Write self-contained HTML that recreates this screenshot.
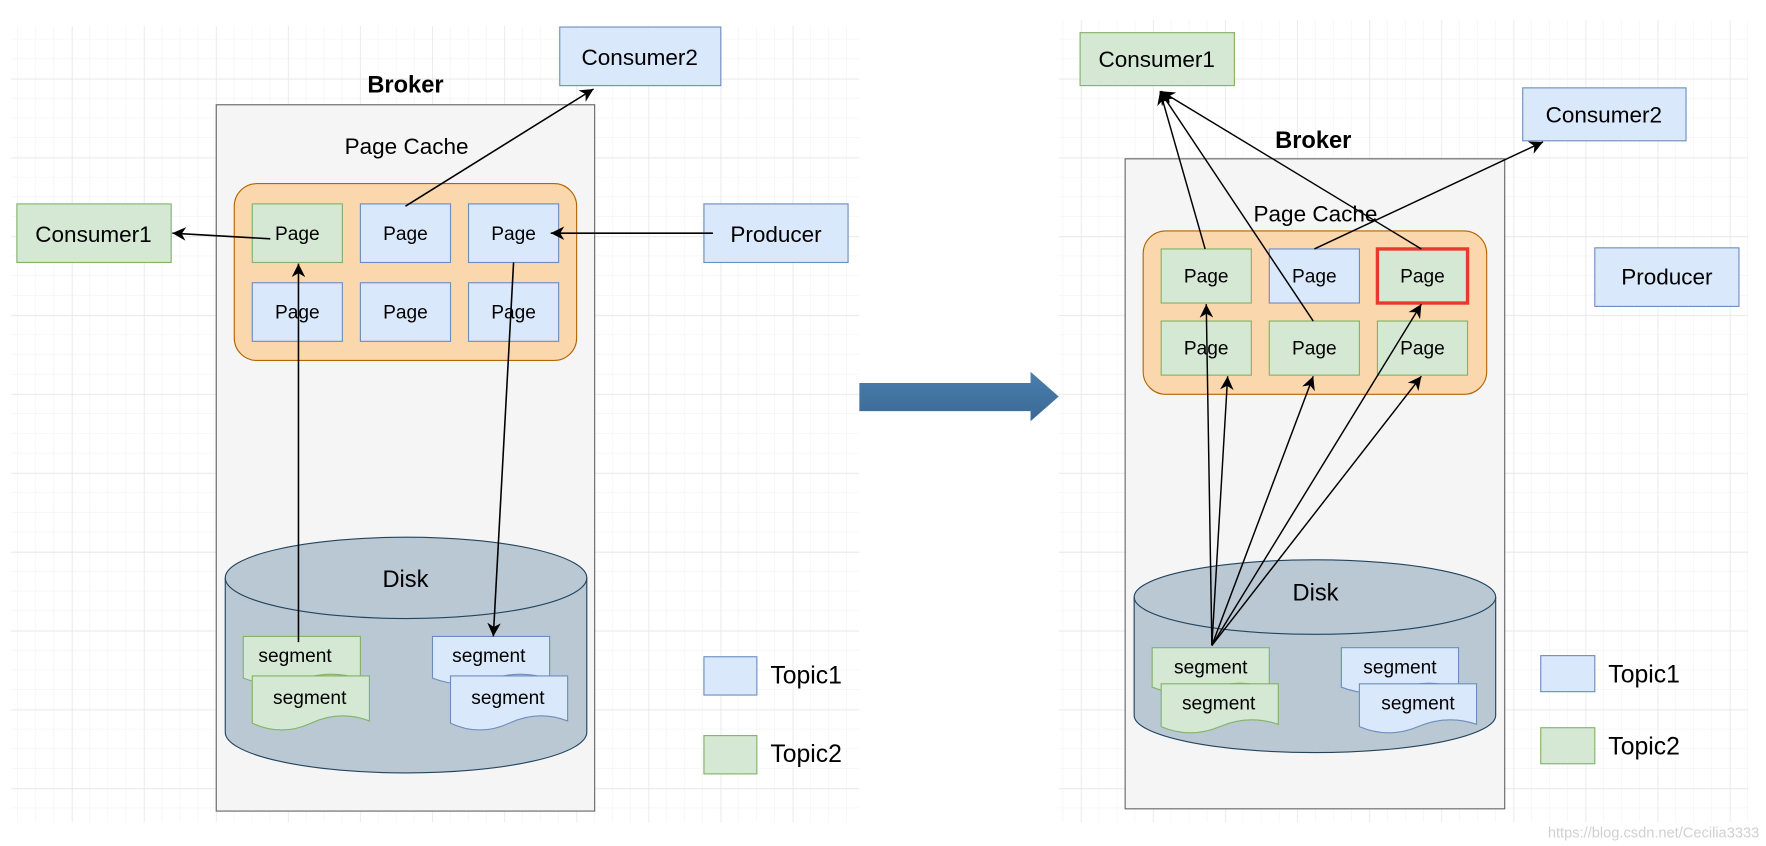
<!DOCTYPE html>
<html><head><meta charset="utf-8"><style>html,body{margin:0;padding:0;background:#fff}svg{display:block}</style></head>
<body>
<svg width="1766" height="846" viewBox="0 0 1568 751" preserveAspectRatio="none" xmlns="http://www.w3.org/2000/svg" font-family="Liberation Sans, sans-serif">
<defs>
<pattern id="g" width="16" height="17.5" patternUnits="userSpaceOnUse"><path d="M16 0V17.5M0 17.5H16" stroke="#f2f2f2" stroke-width="1" fill="none"/></pattern>
<pattern id="G" width="64" height="70" patternUnits="userSpaceOnUse"><path d="M0 0V70M0 0H64" stroke="#e4e4e4" stroke-width="1" fill="none"/></pattern>
<marker id="a" markerWidth="12" markerHeight="12" refX="10" refY="5" orient="auto" markerUnits="userSpaceOnUse" viewBox="0 0 10 10"><path d="M0,0 L10,5 L0,10 L3,5 z" fill="#000"/></marker>
<linearGradient id="bl" x1="0" y1="0" x2="0" y2="1"><stop offset="0" stop-color="#4a7fae"/><stop offset="1" stop-color="#3a6894"/></linearGradient>
</defs>
<rect x="10" y="23" width="753" height="707" fill="url(#g)"/>
<rect x="10" y="23" width="753" height="707" fill="url(#G)"/>
<rect x="940" y="18" width="612" height="712" fill="url(#g)"/>
<rect x="940" y="18" width="612" height="712" fill="url(#G)"/>

<g font-size="18" text-anchor="middle" dominant-baseline="central">
<!-- LEFT -->
<text x="360" y="76" font-size="21" font-weight="bold">Broker</text>
<rect x="192" y="93" width="336" height="627" fill="#f5f5f5" stroke="#666"/>
<text x="361" y="130" font-size="20">Page Cache</text>
<rect x="208" y="163" width="304" height="157" rx="20" fill="#fad7ac" stroke="#b46504"/>
<rect x="224" y="181" width="80" height="52" fill="#d5e8d4" stroke="#82b366"/><text x="264" y="208" font-size="17">Page</text>
<rect x="320" y="181" width="80" height="52" fill="#dae8fc" stroke="#6c8ebf"/><text x="360" y="208" font-size="17">Page</text>
<rect x="416" y="181" width="80" height="52" fill="#dae8fc" stroke="#6c8ebf"/><text x="456" y="208" font-size="17">Page</text>
<rect x="224" y="251" width="80" height="52" fill="#dae8fc" stroke="#6c8ebf"/><text x="264" y="278" font-size="17">Page</text>
<rect x="320" y="251" width="80" height="52" fill="#dae8fc" stroke="#6c8ebf"/><text x="360" y="278" font-size="17">Page</text>
<rect x="416" y="251" width="80" height="52" fill="#dae8fc" stroke="#6c8ebf"/><text x="456" y="278" font-size="17">Page</text>
<rect x="15" y="181" width="137" height="52" fill="#d5e8d4" stroke="#82b366"/><text x="83" y="208" font-size="20">Consumer1</text>
<rect x="497" y="24" width="143" height="52" fill="#dae8fc" stroke="#6c8ebf"/><text x="568" y="51" font-size="20">Consumer2</text>
<rect x="625" y="181" width="128" height="52" fill="#dae8fc" stroke="#6c8ebf"/><text x="689" y="208" font-size="20">Producer</text>
<path d="M200 513 V650 A160 36 0 0 0 521 650 V513 A160 36 0 0 0 200 513 Z" fill="#bac8d3" stroke="#23445d"/>
<path d="M200 513 A160 36 0 0 0 521 513" fill="none" stroke="#23445d"/>
<text x="360" y="515" font-size="21">Disk</text>
<path d="M216 565 H320 V603 Q294 594 268 603 Q242 612 216 602 Z" fill="#d5e8d4" stroke="#82b366"/><text x="262" y="583" font-size="17">segment</text>
<path d="M224 600 H328 V640 Q302 630 276 642 Q250 654 224 642 Z" fill="#d5e8d4" stroke="#82b366"/><text x="275" y="620" font-size="17">segment</text>
<path d="M384 565 H488 V603 Q462 594 436 603 Q410 612 384 602 Z" fill="#dae8fc" stroke="#6c8ebf"/><text x="434" y="583" font-size="17">segment</text>
<path d="M400 600 H504 V640 Q478 630 452 642 Q426 654 400 642 Z" fill="#dae8fc" stroke="#6c8ebf"/><text x="451" y="620" font-size="17">segment</text>
<rect x="625" y="583" width="47" height="34" fill="#dae8fc" stroke="#6c8ebf"/><text x="684" y="600" font-size="22" text-anchor="start">Topic1</text>
<rect x="625" y="653" width="47" height="34" fill="#d5e8d4" stroke="#82b366"/><text x="684" y="670" font-size="22" text-anchor="start">Topic2</text>
<g stroke="#000" stroke-width="1.4" fill="none">
<line x1="240" y1="212" x2="153" y2="207" marker-end="url(#a)"/>
<line x1="360" y1="183" x2="527" y2="79" marker-end="url(#a)"/>
<line x1="633" y1="207" x2="489" y2="207" marker-end="url(#a)"/>
<line x1="265" y1="570" x2="265" y2="234" marker-end="url(#a)"/>
<line x1="456" y1="233" x2="438" y2="565" marker-end="url(#a)"/>
</g>

<!-- big arrow -->
<path d="M763 340 H915 V330 L940 352 L915 374 V365 H763 Z" fill="url(#bl)"/>

<!-- RIGHT -->
<text x="1166" y="125" font-size="21" font-weight="bold">Broker</text>
<rect x="999" y="141" width="337" height="577" fill="#f5f5f5" stroke="#666"/>
<text x="1168" y="190" font-size="20">Page Cache</text>
<rect x="1015" y="205" width="305" height="145" rx="20" fill="#fad7ac" stroke="#b46504"/>
<rect x="1031" y="221" width="80" height="48" fill="#d5e8d4" stroke="#82b366"/><text x="1071" y="246" font-size="17">Page</text>
<rect x="1127" y="221" width="80" height="48" fill="#dae8fc" stroke="#6c8ebf"/><text x="1167" y="246" font-size="17">Page</text>
<rect x="1223" y="221" width="80" height="48" fill="#d5e8d4" stroke="#e83a2c" stroke-width="3"/><text x="1263" y="246" font-size="17">Page</text>
<rect x="1031" y="285" width="80" height="48" fill="#d5e8d4" stroke="#82b366"/><text x="1071" y="310" font-size="17">Page</text>
<rect x="1127" y="285" width="80" height="48" fill="#d5e8d4" stroke="#82b366"/><text x="1167" y="310" font-size="17">Page</text>
<rect x="1223" y="285" width="80" height="48" fill="#d5e8d4" stroke="#82b366"/><text x="1263" y="310" font-size="17">Page</text>
<rect x="959" y="29" width="137" height="47" fill="#d5e8d4" stroke="#82b366"/><text x="1027" y="53" font-size="20">Consumer1</text>
<rect x="1352" y="78" width="145" height="47" fill="#dae8fc" stroke="#6c8ebf"/><text x="1424" y="102" font-size="20">Consumer2</text>
<rect x="1416" y="220" width="128" height="52" fill="#dae8fc" stroke="#6c8ebf"/><text x="1480" y="246" font-size="20">Producer</text>
<path d="M1007 530 V635 A160 33 0 0 0 1328 635 V530 A160 33 0 0 0 1007 530 Z" fill="#bac8d3" stroke="#23445d"/>
<path d="M1007 530 A160 33 0 0 0 1328 530" fill="none" stroke="#23445d"/>
<text x="1168" y="527" font-size="21">Disk</text>
<path d="M1023 575 H1127 V611 Q1101 602 1075 611 Q1049 620 1023 610 Z" fill="#d5e8d4" stroke="#82b366"/><text x="1075" y="593" font-size="17">segment</text>
<path d="M1031 607 H1135 V643 Q1109 634 1083 645 Q1057 656 1031 645 Z" fill="#d5e8d4" stroke="#82b366"/><text x="1082" y="625" font-size="17">segment</text>
<path d="M1191 575 H1295 V611 Q1269 602 1243 611 Q1217 620 1191 610 Z" fill="#dae8fc" stroke="#6c8ebf"/><text x="1243" y="593" font-size="17">segment</text>
<path d="M1207 607 H1311 V643 Q1285 634 1259 645 Q1233 656 1207 645 Z" fill="#dae8fc" stroke="#6c8ebf"/><text x="1259" y="625" font-size="17">segment</text>
<rect x="1368" y="582" width="48" height="32" fill="#dae8fc" stroke="#6c8ebf"/><text x="1428" y="599" font-size="22" text-anchor="start">Topic1</text>
<rect x="1368" y="646" width="48" height="32" fill="#d5e8d4" stroke="#82b366"/><text x="1428" y="663" font-size="22" text-anchor="start">Topic2</text>
<g stroke="#000" stroke-width="1.3" fill="none">
<line x1="1076" y1="573" x2="1071" y2="270" marker-end="url(#a)"/>
<line x1="1076" y1="573" x2="1090" y2="334" marker-end="url(#a)"/>
<line x1="1076" y1="573" x2="1166" y2="334" marker-end="url(#a)"/>
<line x1="1076" y1="573" x2="1262" y2="270" marker-end="url(#a)"/>
<line x1="1076" y1="573" x2="1262" y2="334" marker-end="url(#a)"/>
<line x1="1070" y1="221" x2="1030" y2="81" marker-end="url(#a)"/>
<line x1="1166" y1="285" x2="1030" y2="81" marker-end="url(#a)"/>
<line x1="1262" y1="221" x2="1031" y2="81" marker-end="url(#a)"/>
<line x1="1167" y1="221" x2="1370" y2="126" marker-end="url(#a)"/>
</g>
<text x="1562" y="740" font-size="13" fill="#d0d0d0" text-anchor="end">https://blog.csdn.net/Cecilia3333</text>
</g>
</svg>
</body></html>
